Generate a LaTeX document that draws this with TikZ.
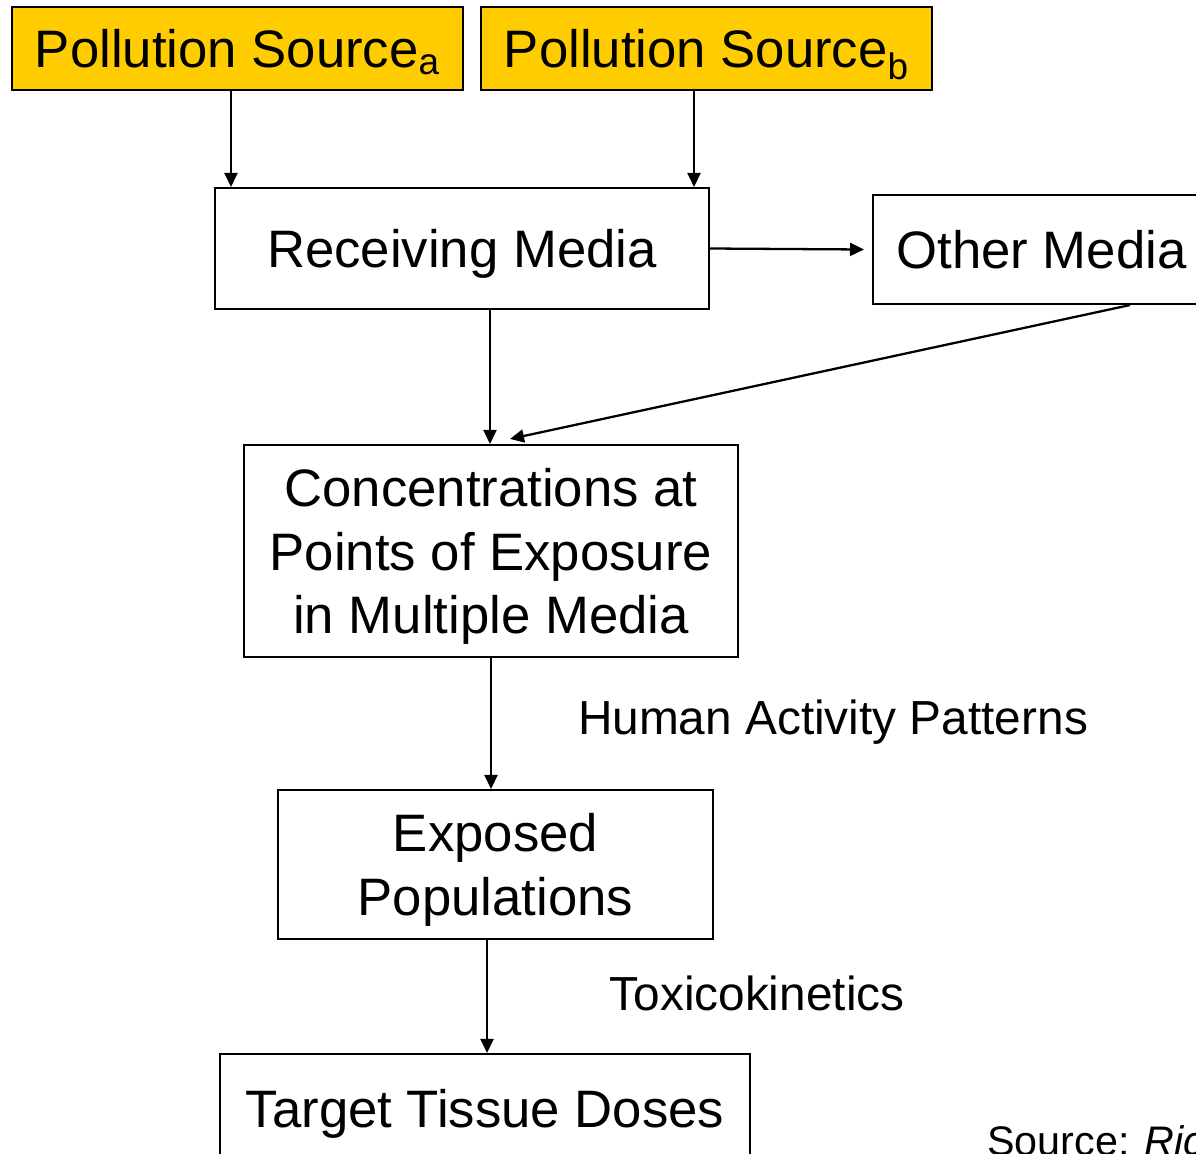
\documentclass[tikz,border=0pt]{standalone}
\usepackage{fontspec}
\setmainfont{Liberation Sans}
\usetikzlibrary{arrows.meta}
\definecolor{srcgold}{HTML}{FFCC00}

\begin{document}
\begin{tikzpicture}[x=0.02cm, y=-0.02cm,
    box/.style={draw, line width=1.2pt, inner sep=0pt, align=center, text depth=0pt,
      font=\fontsize{30}{36}\selectfont},
    srcbox/.style={box, fill=srcgold, minimum width=9.02cm, minimum height=1.66cm},
    lbl/.style={font=\fontsize{27.2}{32}\selectfont, inner sep=0pt, text depth=0pt},
    arr/.style={line width=1.3pt, -{Triangle[length=2.8mm, width=2.6mm]}}]
  \useasboundingbox (0,0) rectangle (1196,1153);
  \clip (0,0) rectangle (1196,1153);
  % sources
  \node[srcbox] (psa) at (237.5,48.5) {Pollution Source\textsubscript{a}};
  \node[srcbox] (psb) at (706.5,48.5) {Pollution Source\textsubscript{b}};
  % media
  \node[box, minimum width=9.88cm, minimum height=2.42cm] (recv) at (462,248.5) {Receiving Media};
  \node[box, minimum width=6.74cm, minimum height=2.18cm] (other) at (1041.5,249.5) {Other Media};
  \node[box, minimum width=9.88cm, minimum height=4.24cm] (conc) at (491,551)
    {Concentrations at\\Points of Exposure\\in Multiple Media};
  \node[box, minimum width=8.7cm, minimum height=2.98cm] (expo) at (495.5,864.5)
    {Exposed\\Populations};
  \node[box, minimum width=10.6cm, minimum height=2.16cm] (dose) at (485,1108)
    {Target Tissue Doses};
  % side labels
  \node[lbl] (hap) at (833,717) {Human Activity Patterns};
  \node[lbl] (tox) at (757,993) {Toxicokinetics};
  \node[lbl, font=\fontsize{23.5}{28}\selectfont, anchor=base west] (src) at (987,1155)
    {Source: \textit{Ric}};
  % arrows
  \draw[arr] ([xshift=-1.3mm]psa.south) -- ([xshift=-1.3mm]psa.south |- recv.north);
  \draw[arr] ([xshift=-2.5mm]psb.south) -- ([xshift=-2.5mm]psb.south |- recv.north);
  \draw[arr] (recv.east) -- ([xshift=-1.6mm]other.west);
  \draw[arr] ([xshift=5.6mm]recv.south) -- ([xshift=5.6mm]recv.south |- conc.north);
  \draw[arr] ([xshift=17.7mm]other.south) -- ([xshift=3.8mm, yshift=1mm]conc.north);
  \draw[arr] (conc.south) -- (conc.south |- expo.north);
  \draw[arr] ([xshift=-1.7mm]expo.south) -- ([xshift=-1.7mm]expo.south |- dose.north);
\end{tikzpicture}
\end{document}
